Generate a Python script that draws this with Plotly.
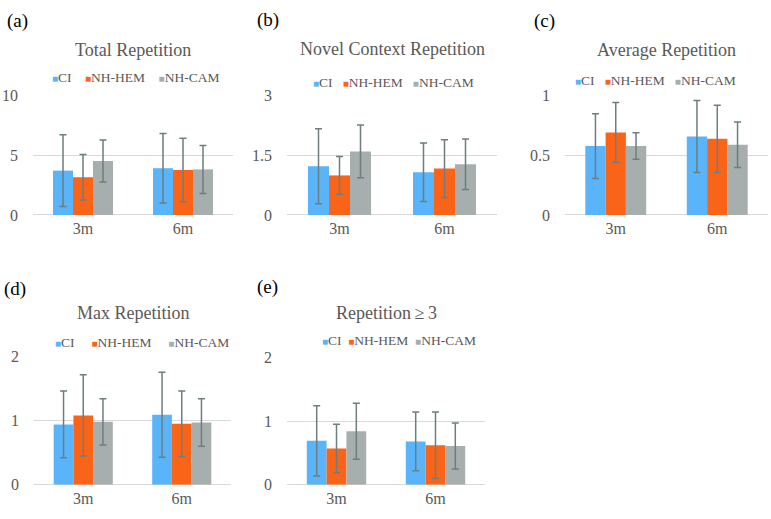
"""Five grouped bar panels of repetition measures (CI vs NH-HEM vs NH-CAM) at 3 and 6 months."""

import plotly.graph_objects as go

W, H = 771, 519

categories = ["3m", "6m"]
groups = ["CI", "NH-HEM", "NH-CAM"]

# mean values per group, [3m, 6m]
total_mean = {"CI": [3.7, 3.9], "NH-HEM": [3.15, 3.75], "NH-CAM": [4.5, 3.8]}
total_sd = {"CI": [3.0, 2.9], "NH-HEM": [1.9, 2.65], "NH-CAM": [1.75, 2.0]}

novel_mean = {"CI": [1.22, 1.07], "NH-HEM": [0.99, 1.16], "NH-CAM": [1.59, 1.27]}
novel_sd = {"CI": [0.94, 0.73], "NH-HEM": [0.47, 0.72], "NH-CAM": [0.66, 0.63]}

avg_mean = {"CI": [0.575, 0.655], "NH-HEM": [0.687, 0.635], "NH-CAM": [0.575, 0.586]}
avg_sd = {"CI": [0.27, 0.30], "NH-HEM": [0.25, 0.28], "NH-CAM": [0.11, 0.19]}

max_mean = {"CI": [0.94, 1.09], "NH-HEM": [1.08, 0.95], "NH-CAM": [0.98, 0.97]}
max_sd = {"CI": [0.52, 0.66], "NH-HEM": [0.63, 0.51], "NH-CAM": [0.36, 0.37]}

rep3_mean = {"CI": [0.69, 0.68], "NH-HEM": [0.57, 0.62], "NH-CAM": [0.84, 0.61]}
rep3_sd = {"CI": [0.55, 0.46], "NH-HEM": [0.38, 0.52], "NH-CAM": [0.44, 0.36]}

COLORS = {"CI": "#5AB4F9", "NH-HEM": "#FA6419", "NH-CAM": "#A6AFAD"}
ERR_COLOR = "#6E7E7E"
GRID = "#D9D9D9"
TXT = "#595959"
FONT = "Times New Roman, Liberation Serif, DejaVu Serif, serif"

# panel: (label, title, mean, sd, y ticks, x px span, y px span, title y,
#         legend (cx, y, gap), letter pos)
panels = [
    ("(a)", "Total Repetition", total_mean, total_sd, [0, 5, 10], (33, 233), (90, 214), 43, (135, 72, 4), (5, 13)),
    ("(b)", "Novel Context Repetition", novel_mean, novel_sd, [0, 1.5, 3], (287, 497), (90, 214), 42, (393, 77, 3), (255, 12)),
    ("(c)", "Average Repetition", avg_mean, avg_sd, [0, 0.5, 1], (565, 768), (90, 214), 43, (655, 75, 3), (532, 13)),
    ("(d)", "Max Repetition", max_mean, max_sd, [0, 1, 2], (34, 231), (360, 493), 315, (142, 346, 5), (2, 290)),
    ("(e)", "Repetition\u2009\u2265\u20093", rep3_mean, rep3_sd, [0, 1, 2], (287, 485), (361, 493), 315, (399, 344, 2), (255, 288)),
]

fig = go.Figure()
layout = {}
annotations = []

for i, (lab, title, mean, sd, yt, (x0, x1), (y0, y1), ty, (lx, ly, gap), (px, py)) in enumerate(panels, start=1):
    sfx = "" if i == 1 else str(i)
    for g in groups:
        fig.add_trace(
            go.Bar(
                x=categories,
                y=mean[g],
                name=g,
                marker=dict(color=COLORS[g], line=dict(width=0)),
                error_y=dict(type="data", array=sd[g], color=ERR_COLOR, thickness=1.5, width=3.5),
                showlegend=False,
                xaxis="x" + sfx,
                yaxis="y" + sfx,
            )
        )
    layout["xaxis" + sfx] = dict(
        domain=[x0 / W, x1 / W],
        anchor="y" + sfx,
        type="category",
        showgrid=False,
        showline=False,
        zeroline=False,
        ticks="",
        ticklabelstandoff=2,
        tickfont=dict(family=FONT, size=16, color=TXT),
    )
    layout["yaxis" + sfx] = dict(
        domain=[1 - y1 / H, 1 - y0 / H],
        anchor="x" + sfx,
        range=[0, yt[-1]],
        tickvals=yt,
        ticktext=[f"{v:g}" for v in yt],
        showgrid=True,
        gridcolor=GRID,
        gridwidth=1,
        zeroline=True,
        zerolinecolor=GRID,
        zerolinewidth=1,
        showline=False,
        ticks="",
        ticklabelstandoff=14,
        tickfont=dict(family=FONT, size=16, color=TXT),
    )
    # panel title
    annotations.append(dict(
        text=title, x=(x0 + x1) / 2 / W, y=1 - ty / H, xref="paper", yref="paper",
        xanchor="center", yanchor="middle", showarrow=False,
        font=dict(family=FONT, size=18, color=TXT),
    ))
    # panel letter
    annotations.append(dict(
        text=lab, x=px / W, y=1 - py / H, xref="paper", yref="paper",
        xanchor="left", yanchor="middle", showarrow=False,
        font=dict(family=FONT, size=19, color="#000000"),
    ))
    # legend row
    parts = [
        f'<span style="color:{COLORS[g]};font-size:10px">\u25A0</span>{g}' for g in groups
    ]
    annotations.append(dict(
        text=("&nbsp;" * gap).join(parts), x=lx / W, y=1 - ly / H,
        xref="paper", yref="paper", xanchor="center", yanchor="middle", showarrow=False,
        font=dict(family=FONT, size=13.5, color=TXT),
    ))

fig.update_layout(
    width=W,
    height=H,
    margin=dict(l=0, r=0, t=0, b=0),
    paper_bgcolor="white",
    plot_bgcolor="white",
    barmode="group",
    bargap=0.4,
    bargroupgap=0,
    annotations=annotations,
    **layout,
)

# the page's default body margin would push the figure off by 8px
fig.write_html(
    "out.html",
    config={"displayModeBar": False},
    post_script="document.body.style.margin = '0';",
)
